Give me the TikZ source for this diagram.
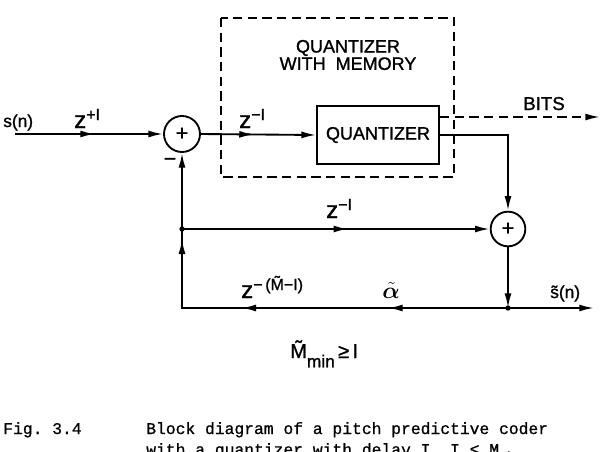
\documentclass[tikz,border=0pt]{standalone}
\usepackage{bm}
\usepackage{fontspec}
\setmainfont[FakeBold=1.2]{Liberation Sans}
\newfontfamily\capfont[FakeBold=0.8]{Liberation Mono}
\usetikzlibrary{arrows.meta,decorations.markings}
\newcommand\zz{{\fontsize{18}{18}\selectfont z}}
\newcommand\supf{\fontsize{12}{12}\selectfont}
\begin{document}
\begin{tikzpicture}[x=0.75pt,y=-0.75pt,
  >={Latex[length=11pt,width=5.2pt]},
  wire/.style={line width=1.4pt},
  midarr/.style={postaction={decorate},decoration={markings,mark=at position #1 with {\arrow{>}}}},
  sumc/.style={circle,draw,line width=1.4pt,minimum size=27pt,inner sep=0pt,font=\fontsize{16}{16}\selectfont},
  sumd/.style={sumc,minimum size=26pt},
  qbox/.style={draw,line width=1.3pt,minimum width=91.5pt,minimum height=43.5pt,inner sep=0pt,font=\fontsize{13.5}{13.5}\selectfont},
  lbl/.style={font=\fontsize{13}{13}\selectfont,inner sep=0pt,anchor=base west},
  memtitle/.style={font=\fontsize{13.5}{13}\selectfont,align=center,inner sep=0pt},
  caption/.style={font=\capfont\fontsize{12.25}{12.25}\selectfont,inner sep=0pt,anchor=base west}
]
\useasboundingbox (0,0) rectangle (601,451);
\clip (0,0) rectangle (601,451);

% memory box
\draw[line width=1.4pt,dash pattern=on 7pt off 4pt] (221,18) rectangle (454,177);
\node[memtitle] (title) at (348,55) {QUANTIZER\\WITH\ \ MEMORY};

% nodes
\coordinate (in) at (15,134);
\node[lbl] (sn) at (3,127) {s(n)};
\node[sumc] (s1) at (182,134) {+};
\node[qbox] (q) at (378,135) {QUANTIZER};
\node[sumd] (s2) at (508,229) {+};
\coordinate (qo) at (508,135);
\coordinate (bits) at (600,117);
\coordinate (j1) at (182,229);
\coordinate (j2) at (508,308);
\coordinate (c) at (182,308);
\coordinate (out) at (594,308);

% connectors
\draw[wire,midarr=0.54,->] (in) -- (s1.west);
\draw[wire,midarr=0.46,->] (s1.east) -- (q.west);
\draw[wire,dash pattern=on 7pt off 4pt,->] ([yshift=13.5pt]q.east) -- (bits);
\draw[wire,->] (q.east) -- (qo) -- (s2.north);
\draw[wire,midarr=0.54,->] (j1) -- (s2.west);
\draw[wire,->] (s2.south) -- (j2);
\draw[wire,->] (j2) -- (out);
\draw[wire,postaction={decorate},decoration={markings,
    mark=at position 90pt with {\arrow{>}},
    mark=at position 200pt with {\arrow{>}},
    mark=at position 296pt with {\arrow{>}}},->]
  (j2) -- (c) -- (j1) -- (s1.south);
\fill (j1) circle (2pt);
\fill (j2) circle (2pt);

% labels
\node[lbl] (l1) at (74,128) {\zz\raisebox{6pt}{\supf +I}};
\node[lbl] (l2) at (239,128) {\zz\raisebox{6pt}{\supf −I}};
\node[lbl] (l3) at (326,218) {\zz\raisebox{6pt}{\supf −I}};
\node[lbl] (l4) at (241,298) {\zz\raisebox{6pt}{\supf −\,(\~{M}−I)}};
\node[lbl,font=\fontsize{17}{17}\selectfont] (l5) at (382,298) {$\bm{\tilde{\alpha}}$};
\node[lbl] (l6) at (550,298) {\~{s}(n)};
\node[lbl,font=\fontsize{14}{14}\selectfont] (l7) at (523,110) {BITS};
\node[font=\fontsize{16}{16}\selectfont,inner sep=0pt] (minus) at (170,162) {−};
\node[lbl,font=\fontsize{15}{15}\selectfont] (l8) at (290,358) {\~{M}\raisebox{-7pt}{\fontsize{13}{13}\selectfont min}\,≥\,I};

% caption
\node[caption] (fig) at (3,434) {Fig.\ 3.4};
\node[caption] (cap1) at (146,434) {Block diagram of a pitch predictive coder};
\node[caption] (cap2) at (146,455) {with a quantizer with delay I, I ≤ M\raisebox{-3pt}{\fontsize{8}{8}\selectfont min} .\ .\ .};
\end{tikzpicture}
\end{document}
